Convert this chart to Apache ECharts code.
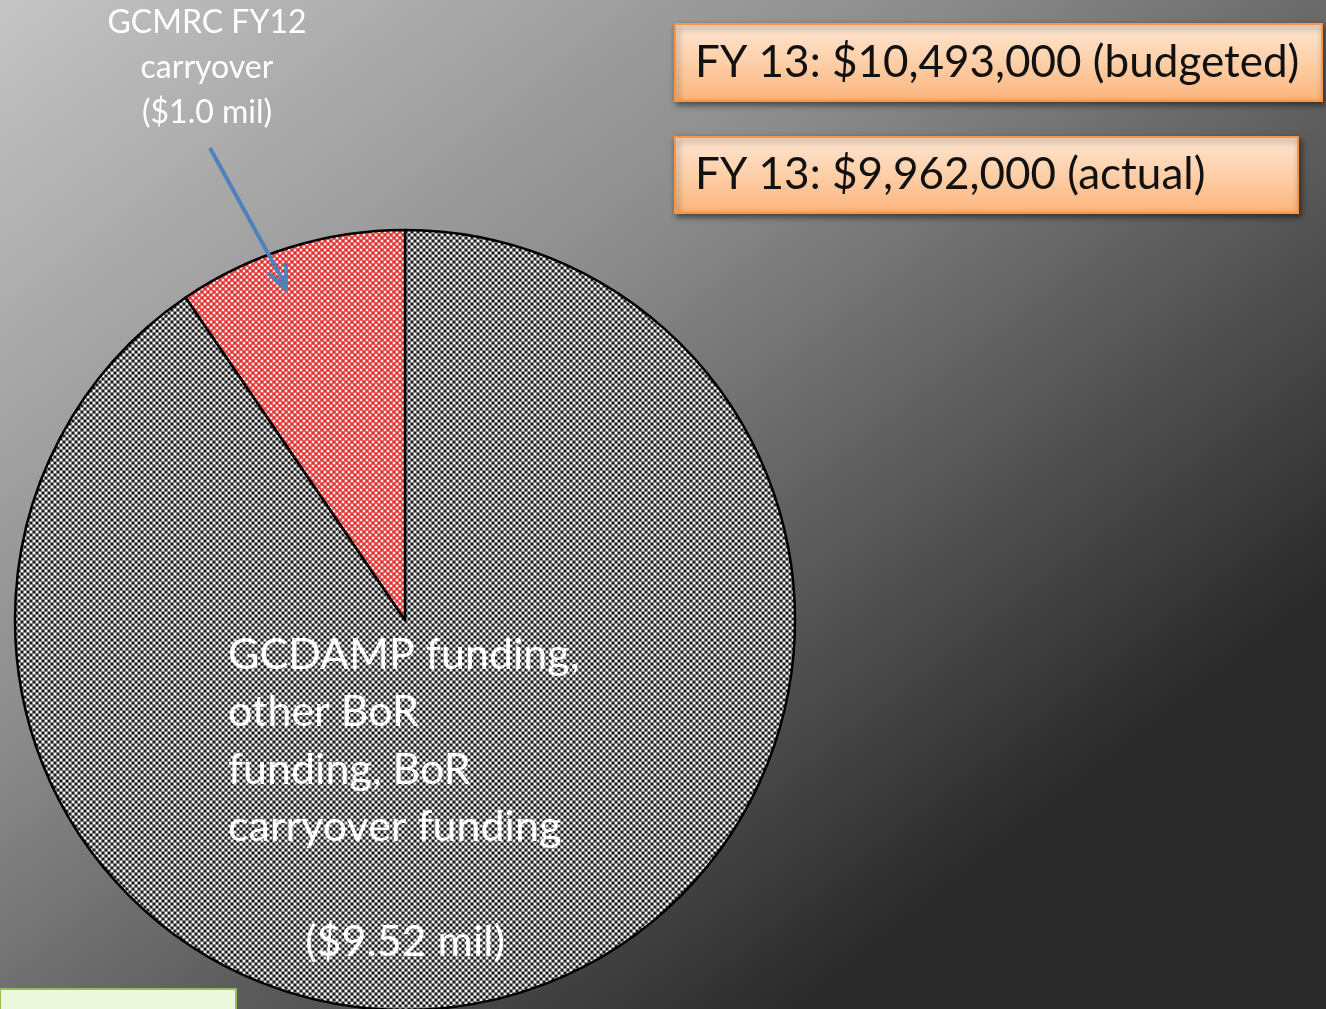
<!DOCTYPE html>
<html>
<head>
<meta charset="utf-8">
<script src="https://cdn.jsdelivr.net/npm/echarts@6/dist/echarts.min.js"></script>
<style>
  html, body { margin: 0; padding: 0; }
  #fundingChart { width: 1326px; height: 1009px; }
</style>
</head>
<body>
<div id="fundingChart"></div>
<script>
// 데이터
const sliceNames = ['GCDAMP funding, other BoR funding, BoR carryover funding', 'GCMRC FY12 carryover'];
const sliceValues = [9.52, 1.0];
const bigLabelLines = ['GCDAMP funding,', 'other BoR', 'funding, BoR', 'carryover funding'];
const bigLabelAmount = '($9.52 mil)';
const smallLabelLines = ['GCMRC FY12', 'carryover', '($1.0 mil)'];
const boxTexts = ['FY 13: $10,493,000 (budgeted)', 'FY 13: $9,962,000 (actual)'];

// 점 무늬 패턴 (6x6 타일)
function makePattern(base, dark, light) {
  const c = document.createElement('canvas');
  c.width = 6; c.height = 6;
  const ctx = c.getContext('2d');
  ctx.fillStyle = base;
  ctx.fillRect(0, 0, 6, 6);
  ctx.fillStyle = dark;
  ctx.fillRect(0, 0, 2, 2);
  ctx.fillRect(3, 3, 2, 2);
  ctx.fillStyle = light;
  ctx.fillRect(3, 0, 2, 2);
  ctx.fillRect(0, 3, 2, 2);
  return { image: c, repeat: 'repeat' };
}

function labelGraphics() {
  const items = [];
  smallLabelLines.forEach(function (t, i) {
    items.push({
      type: 'text', x: 207, y: 23 + i * 45, z: 100,
      style: { text: t, font: '32px Lato', fill: '#ffffff', align: 'center', verticalAlign: 'middle' }
    });
  });
  bigLabelLines.forEach(function (t, i) {
    items.push({
      type: 'text', x: 228, y: 655 + i * 57.5, z: 100,
      style: { text: t, font: '43px Lato', fill: '#ffffff', align: 'left', verticalAlign: 'middle' }
    });
  });
  items.push({
    type: 'text', x: 405, y: 942, z: 100,
    style: { text: bigLabelAmount, font: '43px Lato', fill: '#ffffff', align: 'center', verticalAlign: 'middle' }
  });
  return items;
}

function boxGraphics() {
  const boxes = [[675, 24, 647, 77], [675, 137, 623, 76]];
  const items = [];
  boxes.forEach(function (b, i) {
    items.push({
      type: 'rect', z: 100,
      shape: { x: b[0], y: b[1], width: b[2], height: b[3] },
      style: {
        fill: new echarts.graphic.LinearGradient(0, 0, 0, 1, [
          { offset: 0, color: '#fee6d3' },
          { offset: 0.5, color: '#fdcfa8' },
          { offset: 1, color: '#fbb47b' }
        ]),
        stroke: '#f79646', lineWidth: 2,
        shadowBlur: 6, shadowOffsetX: 2, shadowOffsetY: 3, shadowColor: 'rgba(0,0,0,0.5)'
      }
    });
    items.push({
      type: 'text', x: b[0] + 20, y: b[1] + b[3] / 2, z: 101,
      style: { text: boxTexts[i], font: '44px Lato', fill: '#111111', align: 'left', verticalAlign: 'middle' }
    });
  });
  return items;
}

const option = {
  backgroundColor: new echarts.graphic.LinearGradient(0, 0, 0.6, 1, [
    { offset: 0, color: '#c4c4c4' },
    { offset: 0.45, color: '#8c8c8c' },
    { offset: 1, color: '#2a2a2a' }
  ]),
  animation: false,
  series: [
    {
      type: 'pie',
      center: [405, 620],
      radius: 390,
      startAngle: 90,
      clockwise: true,
      label: { show: false },
      labelLine: { show: false },
      silent: true,
      itemStyle: { borderColor: '#000000', borderWidth: 2.5 },
      data: [
        { name: sliceNames[0], value: sliceValues[0], itemStyle: { color: makePattern('#808080', '#1c1c1c', '#f2f2f2') } },
        { name: sliceNames[1], value: sliceValues[1], itemStyle: { color: makePattern('#ee6262', '#d83434', '#ffeeee') } }
      ]
    }
  ],
  graphic: labelGraphics().concat(boxGraphics()).concat([
    {
      type: 'polyline', z: 100,
      shape: { points: [[210, 148], [286, 286]] },
      style: { stroke: '#4f81bd', lineWidth: 4 }
    },
    {
      type: 'polyline', z: 100,
      shape: { points: [[268, 273], [286, 289], [286, 263]] },
      style: { stroke: '#4f81bd', lineWidth: 4, fill: null }
    },
    {
      type: 'rect', z: 100,
      shape: { x: 0, y: 989, width: 236, height: 30 },
      style: { fill: '#ebf8dc', stroke: '#9bbb59', lineWidth: 2 }
    }
  ])
};

var myChart = echarts.init(document.getElementById('fundingChart'));
myChart.setOption(option);
</script>
</body>
</html>
